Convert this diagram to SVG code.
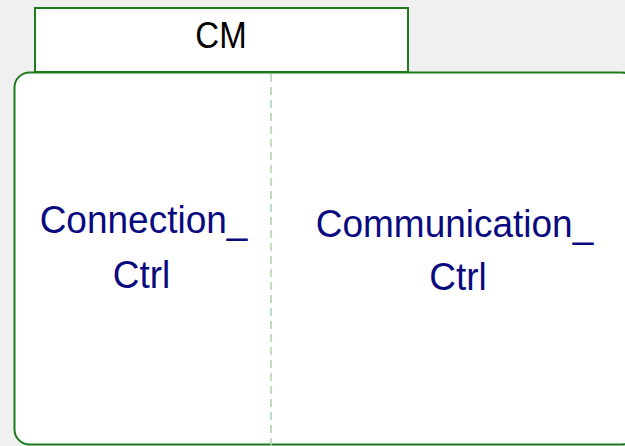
<svg xmlns="http://www.w3.org/2000/svg" width="625" height="446" viewBox="0 0 625 446">
<style>
.box{fill:#ffffff;stroke:#1e7b1e;stroke-width:2}
.sep{stroke:#a9d3a9;stroke-width:1.5;stroke-dasharray:8 5;fill:none}
.lbl{font-family:"Liberation Sans",Arial,sans-serif;text-anchor:middle}
.part{fill:#0a0a80;font-size:37px}
.title{fill:#000000;font-size:33px}
</style>
<rect width="625" height="446" fill="#f0f0f0"/>
<g id="CM">
<rect class="box" x="35" y="8" width="373" height="64"/>
<text class="lbl title" transform="translate(221,48) scale(1,1.12)">CM</text>
</g>
<g id="body">
<rect class="box" x="14.5" y="72.5" width="622" height="372" rx="15" ry="15"/>
</g>
<g id="connectors">
<line class="sep" x1="271" y1="74" x2="271" y2="446"/>
</g>
<g id="Connection_Ctrl">
<text class="lbl part" transform="translate(143.5,233) scale(1,1.06)">Connection_</text>
<text class="lbl part" transform="translate(141.5,288) scale(1,1.06)">Ctrl</text>
</g>
<g id="Communication_Ctrl">
<text class="lbl part" transform="translate(454.5,237) scale(1,1.06)">Communication_</text>
<text class="lbl part" transform="translate(458,290) scale(1,1.06)">Ctrl</text>
</g>
</svg>
